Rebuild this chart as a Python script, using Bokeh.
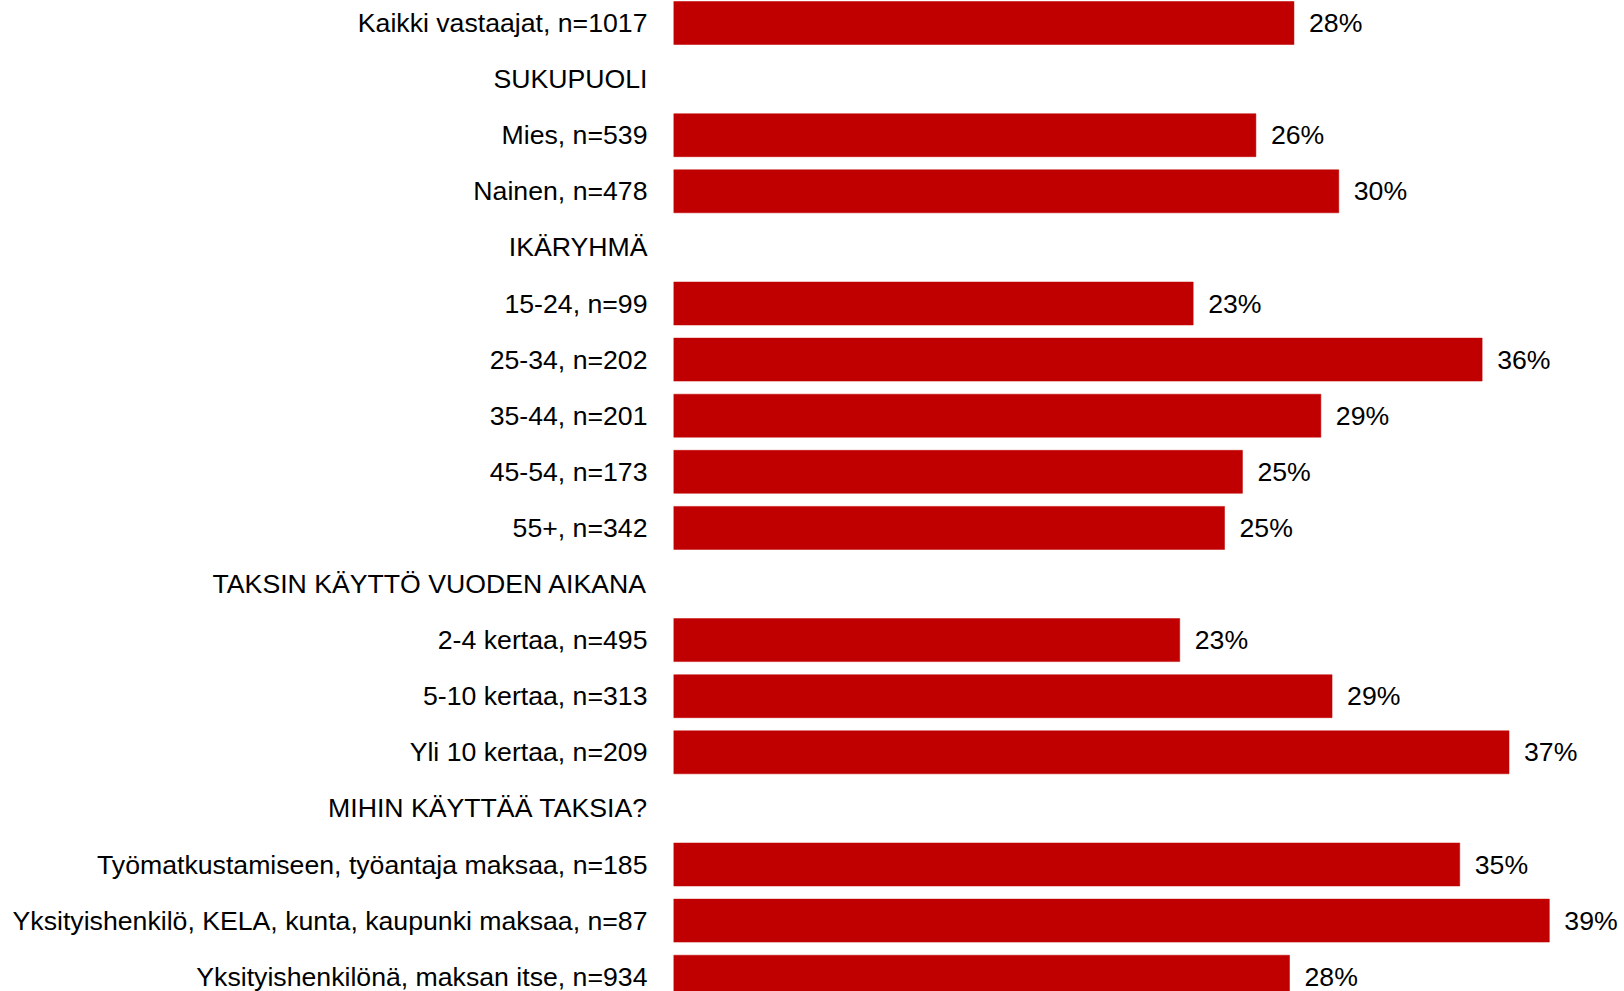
from bokeh.plotting import figure
from bokeh.models import ColumnDataSource, Range1d, FixedTicker
from bokeh.embed import file_html
from bokeh.resources import INLINE

labels = [
    "Kaikki vastaajat, n=1017",
    "SUKUPUOLI",
    "Mies, n=539",
    "Nainen, n=478",
    "IKÄRYHMÄ",
    "15-24, n=99",
    "25-34, n=202",
    "35-44, n=201",
    "45-54, n=173",
    "55+, n=342",
    "TAKSIN KÄYTTÖ VUODEN AIKANA",
    "2-4 kertaa, n=495",
    "5-10 kertaa, n=313",
    "Yli 10 kertaa, n=209",
    "MIHIN KÄYTTÄÄ TAKSIA?",
    "Työmatkustamiseen, työantaja maksaa, n=185",
    "Yksityishenkilö, KELA, kunta, kaupunki maksaa, n=87",
    "Yksityishenkilönä, maksan itse, n=934",
]
values = [27.7, None, 26.0, 29.7, None, 23.2, 36.1, 28.9, 25.4, 24.6,
          None, 22.6, 29.4, 37.3, None, 35.1, 39.1, 27.5]
value_texts = ["28%", "", "26%", "30%", "", "23%", "36%", "29%", "25%", "25%",
               "", "23%", "29%", "37%", "", "35%", "39%", "28%"]

ys = [i for i, v in enumerate(values) if v is not None]
src = ColumnDataSource(dict(
    y=ys,
    v=[values[i] for i in ys],
    t=[value_texts[i] for i in ys],
))

FONT = "Liberation Sans"
W, H = 1624, 991
LEFT = 673
TOP = 22.5
PX_PER_UNIT = 22.4
ROW = 56.1

p = figure(width=W, height=H, output_backend="svg", toolbar_location=None,
           x_axis_location=None,
           x_range=Range1d(0, (W - LEFT) / PX_PER_UNIT),
           y_range=Range1d((H - TOP) / ROW, -TOP / ROW),
           min_border_left=LEFT, min_border_right=0, min_border_top=0, min_border_bottom=0)
p.outline_line_color = None
p.xgrid.visible = False
p.ygrid.visible = False
p.background_fill_color = "white"
p.border_fill_color = "white"

p.hbar(y="y", left=0, right="v", height=43 / ROW, source=src,
       fill_color="#C00000", line_color="#C00000", line_width=0.5)
p.text(x="v", y="y", text="t", source=src, x_offset=15, text_baseline="middle",
       text_align="left", text_font_size="26.67px", text_color="black",
       text_font={"value": FONT})

ax = p.yaxis[0]
ax.ticker = FixedTicker(ticks=list(range(len(labels))))
ax.major_label_overrides = {i: lab for i, lab in enumerate(labels)}
ax.axis_line_color = None
ax.major_tick_line_color = None
ax.minor_tick_line_color = None
ax.major_label_standoff = 20
ax.major_label_text_font = FONT
ax.major_label_text_font_size = "26.67px"
ax.major_label_text_color = "black"

open("out.html", "w").write(file_html(p, INLINE))
